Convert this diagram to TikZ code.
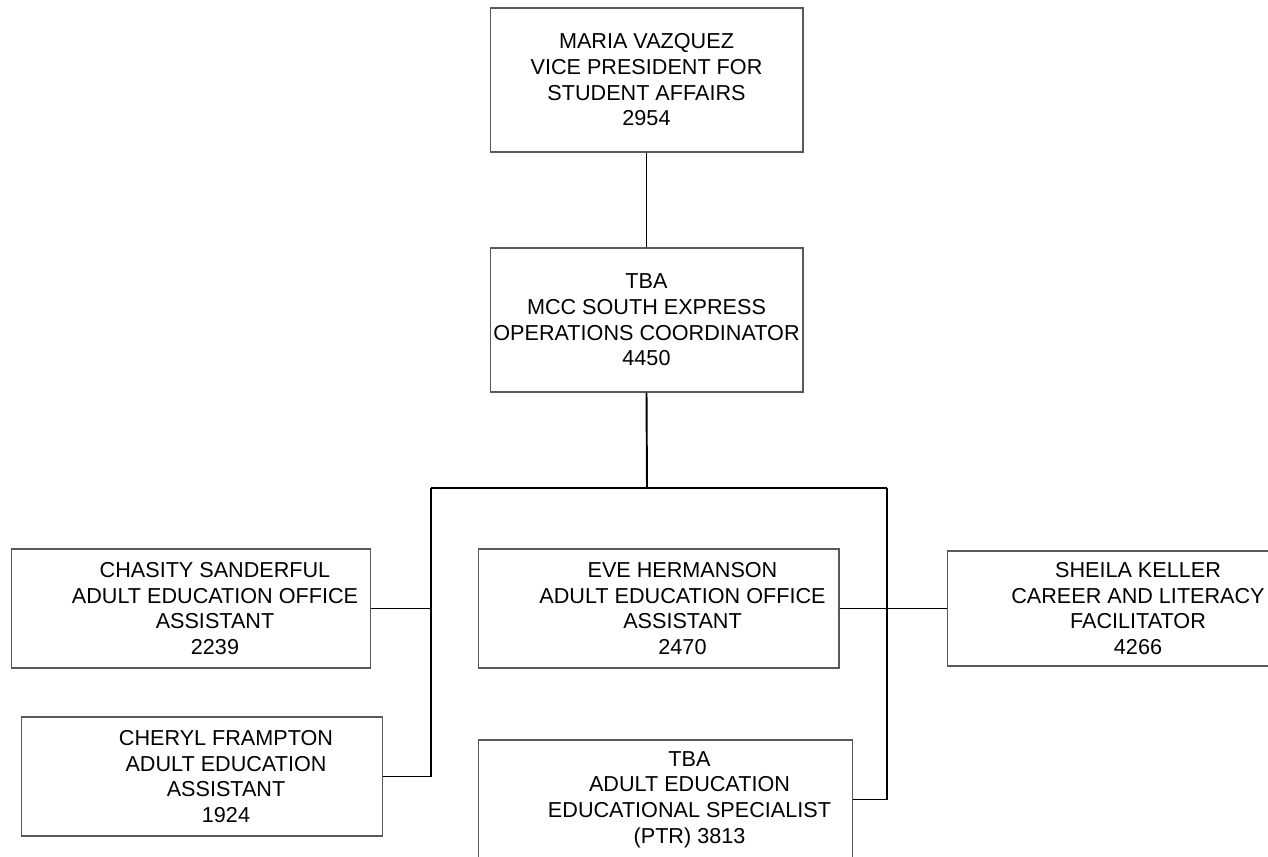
\documentclass[tikz,border=0pt]{standalone}
\usepackage{fontspec}
\setmainfont{Liberation Sans}
\tikzset{
  box/.style={draw=black!65, line width=0.6pt, inner sep=0pt, minimum height=2.38cm},
  txt/.style={align=center, font=\fontsize{12.3}{14.6}\selectfont, inner sep=0pt},
  link/.style={line width=1.1pt}
}
\begin{document}
\begin{tikzpicture}[x=0.02cm, y=-0.02cm]
  \useasboundingbox (0,0) rectangle (1268,856);  % page size
  \clip (0,0) rectangle (1268,856);

  % vice president
  \node[box, minimum width=6.26cm, minimum height=2.88cm] (vp) at (646.5,80) {};  % box
  \node[txt] (vptext) at (vp.center) {MARIA VAZQUEZ\\VICE PRESIDENT FOR\\STUDENT AFFAIRS\\2954};  % label

  % coordinator
  \node[box, minimum width=6.26cm, minimum height=2.88cm] (coord) at (646.5,320) {};  % box
  \node[txt] (coordtext) at (coord.center) {TBA\\MCC SOUTH EXPRESS\\OPERATIONS COORDINATOR\\4450};  % label

  % left column
  \node[box, minimum width=7.2cm] (chasity) at (191,608.5) {};  % box
  \node[txt, xshift=0.48cm] (chasitytext) at (chasity.center) {CHASITY SANDERFUL\\ADULT EDUCATION OFFICE\\ASSISTANT\\2239};  % label
  \node[box, minimum width=7.24cm] (cheryl) at (202,776.5) {};  % box
  \node[txt, xshift=0.48cm] (cheryltext) at (cheryl.center) {CHERYL FRAMPTON\\ADULT EDUCATION\\ASSISTANT\\1924};  % label

  % middle column
  \node[box, minimum width=7.22cm] (eve) at (658.5,608.5) {};  % box
  \node[txt, xshift=0.48cm] (evetext) at (eve.center) {EVE HERMANSON\\ADULT EDUCATION OFFICE\\ASSISTANT\\2470};  % label
  \node[box, minimum width=7.5cm] (spec) at (665.5,799.5) {};  % box
  \node[txt, xshift=0.48cm] (spectext) at (spec.center) {TBA\\ADULT EDUCATION\\EDUCATIONAL SPECIALIST\\(PTR) 3813};  % label

  % right column
  \node[box, minimum width=6.68cm, minimum height=2.3cm] (sheila) at (1114,608.5) {};  % box
  \node[txt, xshift=0.48cm] (sheilatext) at (sheila.center) {SHEILA KELLER\\CAREER AND LITERACY\\FACILITATOR\\4266};  % label

  % connectors
  \coordinate (hub) at (647,488);  % junction below coordinator
  \coordinate (busL) at (431,488);  % left end of bus
  \coordinate (busR) at (887,488);  % right end of bus
  \draw[link] (vp.south) -- (coord.north);
  \draw[link] (coord.south) -- (hub);
  \draw[link] (busL) -- (busR);
  \draw[link] (chasity.east) -| (busL);
  \draw[link] (cheryl.east) -| (busL);
  \draw[link] (spec.east) -| (busR);
  \draw[link] (eve.east) -- (sheila.west);
\end{tikzpicture}
\end{document}
